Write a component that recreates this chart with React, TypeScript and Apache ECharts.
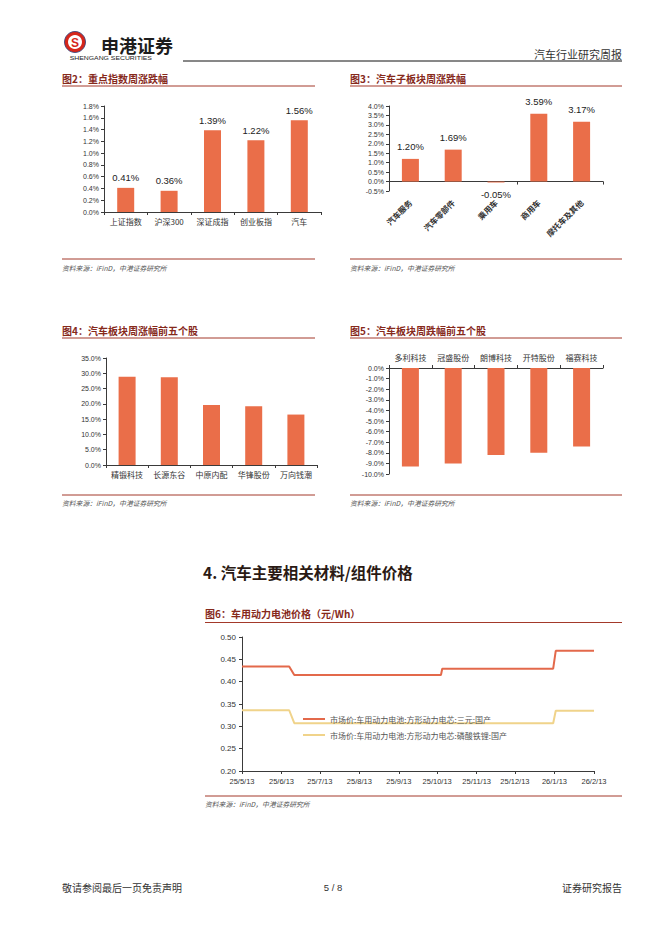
import React, { useEffect, useRef } from 'react';
import * as echarts from 'echarts';

// ---- data ----
const idxCats = ['上证指数', '沪深300', '深证成指', '创业板指', '汽车'];
const idxVals = [0.41, 0.36, 1.39, 1.22, 1.56];

const subCats = ['汽车服务', '汽车零部件', '乘用车', '商用车', '摩托车及其他'];
const subVals = [1.2, 1.69, -0.05, 3.59, 3.17];

const upCats = ['精锻科技', '长源东谷', '中原内配', '华锋股份', '万向钱潮'];
const upVals = [28.9, 28.7, 19.6, 19.2, 16.5];

const downCats = ['多利科技', '冠盛股份', '朗博科技', '开特股份', '福赛科技'];
const downVals = [-9.3, -9.0, -8.2, -8.0, -7.4];

const dateTicks = ['25/5/13', '25/6/13', '25/7/13', '25/8/13', '25/9/13', '25/10/13', '25/11/13', '25/12/13', '26/1/13', '26/2/13'];

const ternaryName = '市场价:车用动力电池:方形动力电芯:三元:国产';
const ternaryDates = ['2025-05-13', '2025-06-19', '2025-06-23', '2025-10-16', '2025-10-17', '2026-01-12', '2026-01-14', '2026-02-13'];
const ternaryVals = [0.434, 0.434, 0.415, 0.415, 0.429, 0.429, 0.469, 0.469];

const lfpName = '市场价:车用动力电池:方形动力电芯:磷酸铁锂:国产';
const lfpDates = ['2025-05-13', '2025-06-19', '2025-06-23', '2026-01-12', '2026-01-14', '2026-02-13'];
const lfpVals = [0.336, 0.336, 0.307, 0.307, 0.335, 0.335];

// ---- helpers ----
const parseDate = (s: string) => {
  const [y, m, d] = s.split('-').map(Number);
  return new Date(y, m - 1, d).getTime();
};
const parseTick = (s: string) => {
  const [y, m, d] = s.split('/').map(Number);
  return new Date(2000 + y, m - 1, d).getTime();
};
const fmtTick = (v: number) => {
  const d = new Date(v);
  return `${String(d.getFullYear()).slice(2)}/${d.getMonth() + 1}/${d.getDate()}`;
};

const CJK = '"Noto Sans CJK SC", "Noto Sans", sans-serif';
const NUM = '"Liberation Sans", Arial, sans-serif';
const BAR = '#EA6E49';
const TITLE = '#86291B';
const RULE = '#A3392A';
const AX = '#3a3a3a';

const txt = (x: number, y: number, text: string, font: string, fill: string, align = 'left', extra: any = {}) => ({
  type: 'text',
  x,
  y,
  ...extra,
  style: { text, font, fill, textAlign: align, textVerticalAlign: 'middle' },
});
const ln = (x1: number, y1: number, x2: number, y2: number, stroke: string, w = 1) => ({
  type: 'line',
  shape: { x1, y1, x2, y2 },
  style: { stroke, lineWidth: w },
});

const catAxis = (gridIndex: number, data: string[], extra: any = {}) => ({
  type: 'category',
  gridIndex,
  data,
  axisLine: { show: true, lineStyle: { color: AX, width: 1 } },
  axisTick: { show: true, length: 3, lineStyle: { color: AX } },
  axisLabel: { fontSize: 8, color: '#333', fontFamily: CJK, margin: 5 },
  splitLine: { show: false },
  ...extra,
});
const valAxis = (gridIndex: number, min: number, max: number, interval: number, digits: number, pct = true) => ({
  type: 'value',
  gridIndex,
  min,
  max,
  interval,
  axisLine: { show: true, lineStyle: { color: AX, width: 1 } },
  axisTick: { show: true, length: 3, lineStyle: { color: AX } },
  axisLabel: {
    fontSize: 7,
    color: '#333',
    fontFamily: NUM,
    margin: 5,
    formatter: (v: number) => v.toFixed(digits) + (pct ? '%' : ''),
  },
  splitLine: { show: false },
});

export default function App() {
  const ref = useRef<HTMLDivElement>(null);
  useEffect(() => {
    document.body.style.margin = '0';
    const chart = echarts.init(ref.current!, null, { renderer: 'svg' });

    const graphic: any[] = [
      // logo
      { type: 'circle', shape: { cx: 75, cy: 42, r: 10.5 }, style: { fill: '#D6261B', stroke: '#243c78', lineWidth: 0.8 } },
      { type: 'circle', shape: { cx: 75, cy: 42, r: 7 }, style: { fill: '#fff' } },
      txt(75, 42.5, 'S', `bold 12px ${NUM}`, '#D6261B', 'center'),
      txt(101, 45, '申港证券', `bold 18px ${CJK}`, '#1d1d1d'),
      txt(102.5, 58, 'SHENGANG SECURITIES', `5.2px ${NUM}`, '#222', 'left', { scaleX: 1.32, originX: 102.5, originY: 58 }),
      ln(183, 61, 622, 61, '#111', 1),
      txt(622, 54, '汽车行业研究周报', `11px ${CJK}`, '#333', 'right'),

      // fig 2 / fig 3 headers
      txt(62, 78, '图2：重点指数周涨跌幅', `bold 10px ${CJK}`, TITLE),
      ln(62, 86, 315, 86, RULE),
      txt(350, 78, '图3：汽车子板块周涨跌幅', `bold 10px ${CJK}`, TITLE),
      ln(350, 86, 622, 86, RULE),
      ln(62, 259, 315, 259, RULE),
      txt(62, 268, '资料来源：iFinD，中港证券研究所', `italic 6.8px ${CJK}`, '#555'),
      ln(350, 259, 622, 259, RULE),
      txt(350, 268, '资料来源：iFinD，中港证券研究所', `italic 6.8px ${CJK}`, '#555'),

      // fig 4 / fig 5 headers
      txt(62, 330, '图4：汽车板块周涨幅前五个股', `bold 10px ${CJK}`, TITLE),
      ln(62, 338, 315, 338, RULE),
      txt(350, 330, '图5：汽车板块周跌幅前五个股', `bold 10px ${CJK}`, TITLE),
      ln(350, 338, 622, 338, RULE),
      ln(62, 495, 315, 495, RULE),
      txt(62, 503, '资料来源：iFinD，中港证券研究所', `italic 6.8px ${CJK}`, '#555'),
      ln(350, 495, 622, 495, RULE),
      txt(350, 503, '资料来源：iFinD，中港证券研究所', `italic 6.8px ${CJK}`, '#555'),

      // section 4
      txt(203, 572, '4. 汽车主要相关材料/组件价格', `bold 15.5px ${CJK}`, '#2a1a14'),
      txt(205, 613, '图6：车用动力电池价格（元/Wh）', `bold 10px ${CJK}`, TITLE),
      ln(205, 622.5, 622, 622.5, RULE),
      ln(205, 796, 622, 796, RULE),
      txt(205, 803.5, '资料来源：iFinD，中港证券研究所', `italic 6.8px ${CJK}`, '#555'),

      // footer
      txt(62, 887, '敬请参阅最后一页免责声明', `10px ${CJK}`, '#333'),
      txt(333, 887, '5 / 8', `9.5px ${NUM}`, '#333', 'center'),
      txt(622, 887, '证券研究报告', `10px ${CJK}`, '#333', 'right'),
    ];

    const barLabel = (distance: number) => ({
      show: true,
      position: 'top',
      distance,
      fontSize: 9.5,
      color: '#222',
      fontFamily: NUM,
      formatter: (p: any) => Number(p.value).toFixed(2) + '%',
    });

    const tickVals = dateTicks.map(parseTick);

    const option: any = {
      animation: false,
      backgroundColor: '#fff',
      textStyle: { fontFamily: CJK },
      graphic,
      grid: [
        { left: 104, top: 106, width: 217, height: 106 },
        { left: 389, top: 106, width: 214, height: 85 },
        { left: 106, top: 358, width: 211, height: 107 },
        { left: 389, top: 368, width: 214, height: 106 },
        { left: 242, top: 637, width: 352, height: 134 },
      ],
      xAxis: [
        catAxis(0, idxCats),
        catAxis(1, subCats, { axisLabel: { show: false }, axisLine: { show: true, onZero: true, lineStyle: { color: AX } } }),
        catAxis(1, subCats, {
          position: 'bottom',
          axisLine: { show: false, onZero: false },
          axisTick: { show: false },
          axisLabel: { rotate: 45, fontSize: 8, fontWeight: 'bold', color: '#333', fontFamily: CJK, margin: 10, interval: 0 },
        }),
        catAxis(2, upCats),
        catAxis(3, downCats, { position: 'top', axisLabel: { fontSize: 8, color: '#333', fontFamily: CJK, margin: 7 } }),
        {
          type: 'value',
          gridIndex: 4,
          min: tickVals[0],
          max: tickVals[tickVals.length - 1],
          scale: true,
          axisLine: { show: true, onZero: false, lineStyle: { color: AX } },
          axisTick: { show: true, length: 3, customValues: tickVals, lineStyle: { color: AX } },
          axisLabel: {
            customValues: tickVals,
            formatter: (v: number) => fmtTick(v),
            fontSize: 7.5,
            color: '#333',
            fontFamily: NUM,
            margin: 6,
            showMinLabel: true,
            showMaxLabel: true,
          },
          splitLine: { show: false },
        },
      ],
      yAxis: [
        valAxis(0, 0, 1.8, 0.2, 1),
        valAxis(1, -0.5, 4, 0.5, 1),
        valAxis(2, 0, 35, 5, 1),
        valAxis(3, -10, 0, 1, 1),
        { ...valAxis(4, 0.2, 0.5, 0.05, 2, false), axisLabel: { fontSize: 8, color: '#333', fontFamily: NUM, margin: 6, formatter: (v: number) => v.toFixed(2) } },
      ],
      legend: {
        left: 303,
        top: 714,
        padding: 0,
        orient: 'vertical',
        icon: 'rect',
        itemWidth: 22,
        itemHeight: 2,
        itemGap: 6,
        textStyle: { fontSize: 8, color: '#555', fontFamily: CJK, lineHeight: 10 },
        data: [ternaryName, lfpName],
      },
      series: [
        { type: 'bar', xAxisIndex: 0, yAxisIndex: 0, data: idxVals, barWidth: 17, itemStyle: { color: BAR }, label: barLabel(5) },
        {
          type: 'bar',
          xAxisIndex: 1,
          yAxisIndex: 1,
          data: subVals.map((v) => ({ value: v, label: { position: v < 0 ? 'bottom' : 'top' } })),
          barWidth: 17,
          itemStyle: { color: BAR },
          label: barLabel(7),
        },
        { type: 'bar', xAxisIndex: 3, yAxisIndex: 2, data: upVals, barWidth: 17, itemStyle: { color: BAR } },
        { type: 'bar', xAxisIndex: 4, yAxisIndex: 3, data: downVals, barWidth: 17, itemStyle: { color: BAR } },
        {
          type: 'line',
          name: ternaryName,
          xAxisIndex: 5,
          yAxisIndex: 4,
          data: ternaryDates.map((d, i) => [parseDate(d), ternaryVals[i]]),
          showSymbol: false,
          color: '#E3694B',
          lineStyle: { color: '#E3694B', width: 2 },
        },
        {
          type: 'line',
          name: lfpName,
          xAxisIndex: 5,
          yAxisIndex: 4,
          data: lfpDates.map((d, i) => [parseDate(d), lfpVals[i]]),
          showSymbol: false,
          color: '#F0D38A',
          lineStyle: { color: '#F0D38A', width: 2 },
        },
      ],
    };

    chart.setOption(option);
    return () => chart.dispose();
  }, []);

  return <div ref={ref} style={{ width: 662, height: 936, position: 'absolute', left: 0, top: 0, background: '#fff' }} />;
}
